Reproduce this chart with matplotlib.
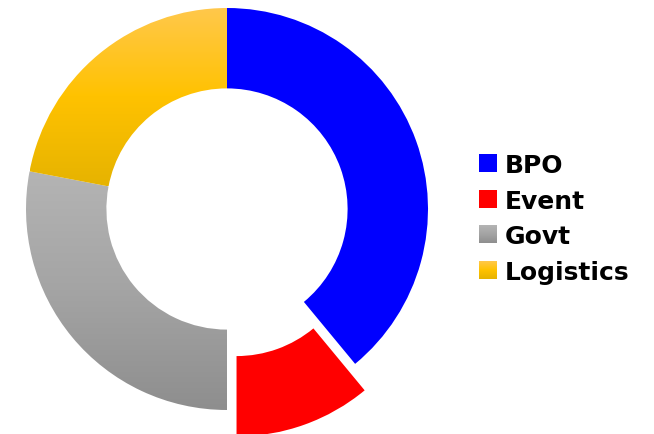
import numpy as np
import matplotlib.pyplot as plt
from matplotlib.colors import LinearSegmentedColormap

# Data
labels = ["BPO", "Event", "Govt", "Logistics"]
shares = [39, 11, 28, 22]
explode = [0, 0.14, 0, 0]

# Fill colours, top to bottom (gradient when more than one)
fills = {
    "BPO": ["#0000ff"],
    "Event": ["#ff0000"],
    "Govt": ["#b4b4b4", "#a4a4a4", "#8e8e8e"],
    "Logistics": ["#ffc84c", "#ffc200", "#e6b300"],
}

W, H = 654, 435
cx, cy, R = 227, 210, 201  # donut centre / radius in pixels


def to_data(px, py):
    return (px - cx) / R, (cy - py) / R


def gradient_fill(ax, patch, cols, extent):
    cmap = LinearSegmentedColormap.from_list("g", cols)
    grad = np.linspace(0, 1, 256).reshape(-1, 1)
    im = ax.imshow(grad, cmap=cmap, extent=extent, aspect="auto",
                   origin="upper", interpolation="bilinear", zorder=2)
    im.set_clip_path(patch)
    patch.set_facecolor("none")


fig = plt.figure(figsize=(W / 100, H / 100), dpi=100)
ax = fig.add_axes([0, 0, 1, 1])

wedges, _ = ax.pie(shares, explode=explode, startangle=90, counterclock=False,
                   radius=1, wedgeprops=dict(width=0.4, linewidth=0))

for w, lab in zip(wedges, labels):
    cols = fills[lab]
    if len(cols) == 1:
        w.set_facecolor(cols[0])
    else:
        b = w.get_path().get_extents()
        gradient_fill(ax, w, cols, [b.x0, b.x1, b.y0, b.y1])

# Legend drawn by hand so the squares can carry the gradients too
sq = 18 / R
x_sq, _ = to_data(479, 0)
x_txt, _ = to_data(505, 0)
for i, lab in enumerate(labels):
    _, yc = to_data(0, 164 + 35.5 * i)
    cols = fills[lab]
    rect = plt.Rectangle((x_sq, yc - sq / 2), sq, sq, facecolor=cols[0],
                         linewidth=0, zorder=3)
    ax.add_patch(rect)
    if len(cols) > 1:
        gradient_fill(ax, rect, cols, [x_sq, x_sq + sq, yc - sq / 2, yc + sq / 2])
        rect.set_zorder(1)
    ax.text(x_txt, yc, lab, fontsize=18, fontweight="bold", color="black",
            va="center_baseline", ha="left", family="DejaVu Sans")

ax.set_xlim(-cx / R, (W - cx) / R)
ax.set_ylim(-(H - cy) / R, cy / R)
ax.set_aspect("auto")
ax.axis("off")

fig.savefig("out.png", dpi=100, facecolor="white")
